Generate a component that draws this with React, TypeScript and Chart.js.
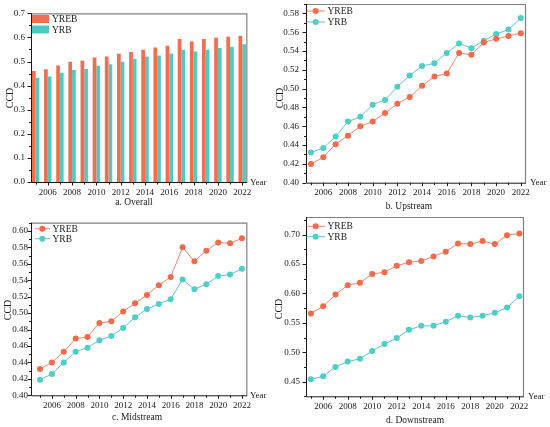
import React, { useEffect, useRef } from 'react';
import { Chart, registerables } from 'chart.js';

Chart.register(...registerables);

// ---------------- data ----------------
const years = [2005, 2006, 2007, 2008, 2009, 2010, 2011, 2012, 2013, 2014, 2015, 2016, 2017, 2018, 2019, 2020, 2021, 2022];

const overallYREB = [0.461, 0.468, 0.483, 0.499, 0.503, 0.517, 0.521, 0.532, 0.539, 0.549, 0.558, 0.565, 0.593, 0.583, 0.593, 0.599, 0.603, 0.607];
const overallYRB = [0.433, 0.438, 0.453, 0.465, 0.469, 0.482, 0.489, 0.499, 0.511, 0.521, 0.525, 0.533, 0.549, 0.542, 0.549, 0.556, 0.561, 0.572];

const upstreamYREB = [0.420, 0.427, 0.441, 0.450, 0.460, 0.465, 0.474, 0.484, 0.491, 0.503, 0.513, 0.516, 0.538, 0.536, 0.549, 0.553, 0.556, 0.559];
const upstreamYRB = [0.432, 0.437, 0.449, 0.465, 0.470, 0.483, 0.488, 0.502, 0.514, 0.524, 0.527, 0.538, 0.548, 0.543, 0.551, 0.558, 0.563, 0.575];

const midstreamYREB = [0.432, 0.440, 0.453, 0.469, 0.471, 0.488, 0.490, 0.502, 0.512, 0.522, 0.534, 0.544, 0.580, 0.563, 0.576, 0.586, 0.585, 0.591];
const midstreamYRB = [0.419, 0.426, 0.440, 0.453, 0.458, 0.467, 0.472, 0.482, 0.495, 0.505, 0.511, 0.517, 0.541, 0.529, 0.535, 0.545, 0.547, 0.554];

const downstreamYREB = [0.566, 0.578, 0.598, 0.614, 0.618, 0.633, 0.636, 0.647, 0.653, 0.655, 0.663, 0.671, 0.685, 0.684, 0.689, 0.684, 0.699, 0.702];
const downstreamYRB = [0.454, 0.459, 0.475, 0.484, 0.489, 0.502, 0.514, 0.524, 0.538, 0.545, 0.545, 0.552, 0.562, 0.559, 0.562, 0.567, 0.576, 0.595];

const seriesNames = ['YREB', 'YRB'];
const yAxisTitle = 'CCD';
const xAxisTitle = 'Year';
const panelTitles = ['a. Overall', 'b. Upstream', 'c. Midstream', 'd. Downstream'];

// ---------------- styles ----------------
const FONT = "'Liberation Serif', 'Times New Roman', serif";
const TEXT = '#1a1a1a';
const C_YREB_BAR = '#F36D4E';
const C_YRB_BAR = '#4FCAC1';
const C_YREB_LINE = '#F3866F';
const C_YREB_PT = '#F46A4A';
const C_YRB_LINE = '#62BEE3';
const C_YRB_PT = '#4ECFC6';

type Area = { l: number; r: number; t: number; b: number };
type PanelCfg = {
  kind: 'bar' | 'line';
  left: number; top: number; w: number; h: number;
  area: Area;
  yMin: number; yMax: number; yStep: number; yRatio: number; yDec: number; yPad: number;
  xMin: number; xMax: number;
  a: number[]; b: number[];
  title: string;
  titleX: number; titleY: number;
  ccdX: number; ccdY: number;
  yearX: number; yearY: number;
  legX0: number; legX1: number; legMark: number; legTextX: number; legY: number[];
};

const panels: PanelCfg[] = [
  {
    kind: 'bar', left: 0, top: 0, w: 275, h: 212,
    area: { l: 31, r: 247.3, t: 13.3, b: 182 },
    yMin: 0, yMax: 0.7, yStep: 0.05, yRatio: 2, yDec: 1, yPad: 6,
    xMin: 2004.62, xMax: 2022.42,
    a: overallYREB, b: overallYRB,
    title: panelTitles[0], titleX: 134, titleY: 202,
    ccdX: 10, ccdY: 98,
    yearX: 250, yearY: 182.5,
    legX0: 32, legX1: 49, legMark: 0, legTextX: 52, legY: [19, 29.5],
  },
  {
    kind: 'line', left: 275, top: 0, w: 275, h: 212,
    area: { l: 31, r: 251, t: 4, b: 182.7 },
    yMin: 0.4, yMax: 0.59, yStep: 0.01, yRatio: 2, yDec: 2, yPad: 7,
    xMin: 2004.6, xMax: 2022.42,
    a: upstreamYREB, b: upstreamYRB,
    title: panelTitles[1], titleX: 134, titleY: 206,
    ccdX: 5, ccdY: 98,
    yearX: 255, yearY: 183,
    legX0: 31.7, legX1: 50, legMark: 40.7, legTextX: 52.5, legY: [11, 22],
  },
  {
    kind: 'line', left: 0, top: 212, w: 275, h: 215,
    area: { l: 31, r: 247.3, t: 10.7, b: 183.3 },
    yMin: 0.4, yMax: 0.61, yStep: 0.01, yRatio: 2, yDec: 2, yPad: 3,
    xMin: 2004.24, xMax: 2022.45,
    a: midstreamYREB, b: midstreamYRB,
    title: panelTitles[2], titleX: 137, titleY: 205,
    ccdX: 8.5, ccdY: 98,
    yearX: 250, yearY: 184,
    legX0: 35, legX1: 50, legMark: 42.3, legTextX: 52.5, legY: [16.7, 26.7],
  },
  {
    kind: 'line', left: 275, top: 212, w: 275, h: 215,
    area: { l: 31, r: 249, t: 5, b: 184.3 },
    yMin: 0.425, yMax: 0.73, yStep: 0.025, yRatio: 2, yDec: 2, yPad: 6,
    xMin: 2004.6, xMax: 2022.38,
    a: downstreamYREB, b: downstreamYRB,
    title: panelTitles[3], titleX: 140, titleY: 208,
    ccdX: 4.5, ccdY: 97,
    yearX: 253, yearY: 185,
    legX0: 31.7, legX1: 50, legMark: 40.7, legTextX: 52.5, legY: [14.3, 24.7],
  },
];

const decorPlugin = {
  id: 'decor',
  afterDraw(chart: any, _args: any, o: any) {
    const cfg: PanelCfg = o.cfg;
    const ctx: CanvasRenderingContext2D = chart.ctx;
    const { left, right, top, bottom } = chart.chartArea;
    ctx.save();
    // top & right frame (grey)
    ctx.lineWidth = 1.2;
    ctx.strokeStyle = '#808080';
    ctx.beginPath();
    ctx.moveTo(left, top + 0.5);
    ctx.lineTo(right - 0.5, top + 0.5);
    ctx.lineTo(right - 0.5, bottom);
    ctx.stroke();
    // left & bottom axes (dark)
    ctx.lineWidth = 1;
    ctx.strokeStyle = '#1a1a1a';
    ctx.beginPath();
    ctx.moveTo(left + 0.5, top);
    ctx.lineTo(left + 0.5, bottom + 0.5);
    ctx.lineTo(right, bottom + 0.5);
    ctx.stroke();
    // tick marks
    const ys = chart.scales.y;
    ctx.beginPath();
    ys.ticks.forEach((t: any) => {
      const p = Math.round(ys.getPixelForValue(t.value)) + 0.5;
      const len = t.label !== '' ? 3.5 : 2;
      ctx.moveTo(left - len, p);
      ctx.lineTo(left, p);
    });
    const xs = chart.scales.x;
    xs.ticks.forEach((t: any) => {
      const p = Math.round(xs.getPixelForValue(t.value)) + 0.5;
      const len = t.label !== '' ? 3.5 : 2.5;
      ctx.moveTo(p, bottom);
      ctx.lineTo(p, bottom + len);
    });
    ctx.stroke();

    // texts
    ctx.fillStyle = TEXT;
    ctx.textBaseline = 'middle';
    ctx.font = `9px ${FONT}`;
    ctx.textAlign = 'left';
    ctx.fillText(xAxisTitle, cfg.yearX, cfg.yearY);

    ctx.font = `9.5px ${FONT}`;
    ctx.textAlign = 'center';
    ctx.fillText(cfg.title, cfg.titleX, cfg.titleY);

    ctx.save();
    ctx.translate(cfg.ccdX, cfg.ccdY);
    ctx.rotate(-Math.PI / 2);
    ctx.font = `10px ${FONT}`;
    ctx.fillText(yAxisTitle, 0, 0);
    ctx.restore();

    // legend
    chart.data.datasets.forEach((ds: any, i: number) => {
      const y = cfg.legY[i];
      if (cfg.kind === 'bar') {
        ctx.fillStyle = ds.backgroundColor;
        ctx.fillRect(cfg.legX0, y - 4, cfg.legX1 - cfg.legX0, 8);
      } else {
        ctx.strokeStyle = ds.borderColor;
        ctx.lineWidth = 1;
        ctx.beginPath();
        ctx.moveTo(cfg.legX0, y);
        ctx.lineTo(cfg.legX1, y);
        ctx.stroke();
        ctx.fillStyle = ds.pointBackgroundColor;
        ctx.beginPath();
        ctx.arc(cfg.legMark, y, 3, 0, Math.PI * 2);
        ctx.fill();
      }
      ctx.fillStyle = TEXT;
      ctx.font = `9.5px ${FONT}`;
      ctx.textAlign = 'left';
      ctx.fillText(ds.label, cfg.legTextX, y + 0.5);
    });
    ctx.restore();
  },
};

function Panel({ cfg }: { cfg: PanelCfg }) {
  const ref = useRef<HTMLCanvasElement | null>(null);
  useEffect(() => {
    if (!ref.current) return;
    const mk = (vals: number[]) => years.map((x, i) => ({ x, y: vals[i] }));
    const datasets: any[] =
      cfg.kind === 'bar'
        ? [
            { label: seriesNames[0], data: mk(cfg.a), backgroundColor: C_YREB_BAR, borderWidth: 0, categoryPercentage: 0.61, barPercentage: 1 },
            { label: seriesNames[1], data: mk(cfg.b), backgroundColor: C_YRB_BAR, borderWidth: 0, categoryPercentage: 0.61, barPercentage: 1 },
          ]
        : [
            { label: seriesNames[0], data: mk(cfg.a), borderColor: C_YREB_LINE, borderWidth: 1, pointRadius: 3, pointBackgroundColor: C_YREB_PT, pointBorderColor: C_YREB_PT, pointBorderWidth: 0, tension: 0 },
            { label: seriesNames[1], data: mk(cfg.b), borderColor: C_YRB_LINE, borderWidth: 1, pointRadius: 3, pointBackgroundColor: C_YRB_PT, pointBorderColor: C_YRB_PT, pointBorderWidth: 0, tension: 0 },
          ];
    const tickFont = { family: FONT, size: 9 };
    const chart = new Chart(ref.current, {
      type: cfg.kind,
      data: { datasets },
      plugins: [decorPlugin],
      options: {
        responsive: false,
        animation: false,
        events: [],
        layout: { padding: { left: 0, top: cfg.area.t, right: cfg.w - cfg.area.r, bottom: 0 } },
        plugins: {
          legend: { display: false },
          tooltip: { enabled: false },
          title: { display: false },
          decor: { cfg },
        } as any,
        scales: {
          x: {
            type: 'linear',
            offset: false,
            min: cfg.xMin,
            max: cfg.xMax,
            grid: { display: false, drawTicks: false, offset: false },
            border: { display: false },
            ticks: {
              stepSize: 1,
              includeBounds: false,
              autoSkip: false,
              maxRotation: 0,
              minRotation: 0,
              padding: 5,
              color: TEXT,
              font: tickFont,
              callback: (v: any) => (Math.round(v) % 2 === 0 ? String(Math.round(v)) : ''),
            },
            afterFit: (s: any) => {
              s.height = cfg.h - cfg.area.b;
              s.paddingLeft = 0;
              s.paddingRight = 0;
            },
          },
          y: {
            type: 'linear',
            min: cfg.yMin,
            max: cfg.yMax,
            grid: { display: false, drawTicks: false },
            border: { display: false },
            ticks: {
              stepSize: cfg.yStep,
              includeBounds: false,
              autoSkip: false,
              padding: cfg.yPad,
              color: TEXT,
              font: tickFont,
              callback: (v: any) => {
                const k = Math.round(v / cfg.yStep);
                return k % cfg.yRatio === 0 ? Number(v).toFixed(cfg.yDec) : '';
              },
            },
            afterFit: (s: any) => {
              s.width = cfg.area.l;
              s.paddingTop = 0;
              s.paddingBottom = 0;
            },
          },
        } as any,
      } as any,
    });
    return () => chart.destroy();
  }, [cfg]);
  return (
    <canvas
      ref={ref}
      width={cfg.w}
      height={cfg.h}
      style={{ position: 'absolute', left: cfg.left, top: cfg.top, width: cfg.w, height: cfg.h, display: 'block' }}
    />
  );
}

export default function App() {
  return (
    <div style={{ position: 'absolute', left: 0, top: 0, width: 550, height: 427, background: '#ffffff', overflow: 'hidden' }}>
      {panels.map((p, i) => (
        <Panel key={i} cfg={p} />
      ))}
    </div>
  );
}
